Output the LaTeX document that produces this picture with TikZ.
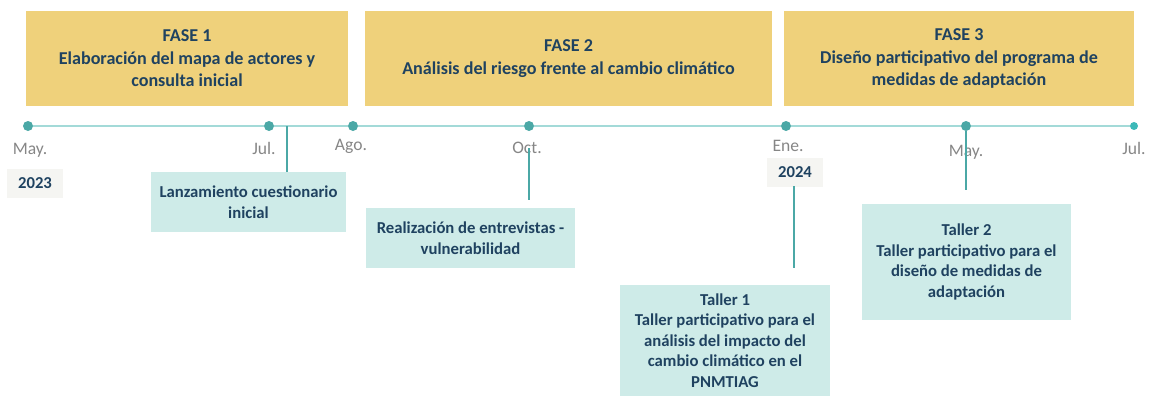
\documentclass[tikz,border=0pt]{standalone}
\usepackage{fontspec}
\setmainfont{Carlito}
\usetikzlibrary{positioning}

\definecolor{oro}{HTML}{EFD17B}
\definecolor{aguamar}{HTML}{CEEBE8}
\definecolor{marino}{HTML}{1F4260}
\definecolor{verdeazul}{HTML}{4BA8A6}
\definecolor{lineatiempo}{HTML}{A3DAD8}
\definecolor{gristexto}{HTML}{868686}
\definecolor{grisfondo}{HTML}{F5F5F2}

\newlength\pxu
\setlength\pxu{0.02cm}

\tikzset{
  fase/.style={fill=oro, inner sep=0pt, align=center, text=marino,
    font=\fontsize{10.3}{12.8}\selectfont\bfseries, minimum height=95\pxu},
  evento/.style={fill=aguamar, inner sep=0pt, align=center, text=marino,
    font=\fontsize{9.5}{11.7}\selectfont\bfseries},
  mes/.style={text=gristexto, font=\fontsize{10}{11}\selectfont, inner sep=1pt},
  anio/.style={fill=grisfondo, text=marino, font=\fontsize{9.5}{11}\selectfont\bfseries,
    minimum width=56\pxu, minimum height=29\pxu, inner sep=0pt},
  punto/.style={circle, fill=verdeazul, inner sep=0pt, minimum size=10\pxu},
  enlace/.style={verdeazul, line width=0.9pt}
}

\begin{document}
\begin{tikzpicture}[x=0.02cm, y=-0.02cm]
    \useasboundingbox (0,0) rectangle (1153,396);

    % fases
    \node[fase, minimum width=322\pxu] (fase1) at (187,58.5)
         {FASE 1\\Elaboración del mapa de actores y\\consulta inicial};
    \node[fase, minimum width=407\pxu] (fase2) at (568.5,58.5)
         {FASE 2\\Análisis del riesgo frente al cambio climático};
    \node[fase, minimum width=350\pxu] (fase3) at (959,58.5)
         {FASE 3\\Diseño participativo del programa de\\medidas de adaptación};

    % linea de tiempo
    \node[punto] (may23) at (28,126) {};
    \node[punto] (jul23) at (269,126) {};
    \node[punto] (ago23) at (353,126) {};
    \node[punto] (oct23) at (529,126) {};
    \node[punto] (ene24) at (786,126) {};
    \node[punto] (may24) at (966,126) {};
    \node[punto, fill=verdeazul!80!cyan, minimum size=8\pxu] (jul24) at (1134,126) {};
    \draw[lineatiempo, line width=0.9pt] (may23) -- (jul23) -- (ago23) -- (oct23)
         -- (ene24) -- (may24) -- (jul24);

    % meses
    \node[mes] (tmay23) at (30,150) {May.};
    \node[mes] (tjul23) at (264,148) {Jul.};
    \node[mes] (tago23) at (351,146) {Ago.};
    \node[mes] (toct23) at (527,148) {Oct.};
    \node[mes] (tene24) at (788,146) {Ene.};
    \node[mes] (tmay24) at (966,152) {May.};
    \node[mes] (tjul24) at (1134,148) {Jul.};

    % años
    \node[anio] (a2023) at (35,183.5) {2023};
    \node[anio] (a2024) at (795,172) {2024};

    % eventos
    \node[evento, minimum width=195\pxu, minimum height=60\pxu] (lanz) at (248.5,202)
         {Lanzamiento cuestionario\\inicial};
    \node[evento, minimum width=209\pxu, minimum height=60\pxu] (entrev) at (470.5,238)
         {Realización de entrevistas -\\vulnerabilidad};
    \node[evento, minimum width=210\pxu, minimum height=111\pxu] (taller1) at (725,340.5)
         {Taller 1\\Taller participativo para el\\análisis del impacto del\\cambio climático en el\\PNMTIAG};
    \node[evento, minimum width=209\pxu, minimum height=116\pxu] (taller2) at (966.5,262)
         {Taller 2\\Taller participativo para el\\diseño de medidas de\\adaptación};

    % enlaces
    \coordinate (c1) at (287,126);
    \coordinate (c2) at (529,148);
    \coordinate (c2b) at (529,200);
    \coordinate (c3) at (794,186);
    \coordinate (c3b) at (794,268);
    \coordinate (c4b) at (966,190);
    \draw[enlace] (c1) -- (c1 |- lanz.north);
    \draw[enlace] (c2) -- (c2b);
    \draw[enlace] (c3) -- (c3b);
    \draw[enlace] (may24) -- (c4b);
  \end{tikzpicture}
\end{document}
